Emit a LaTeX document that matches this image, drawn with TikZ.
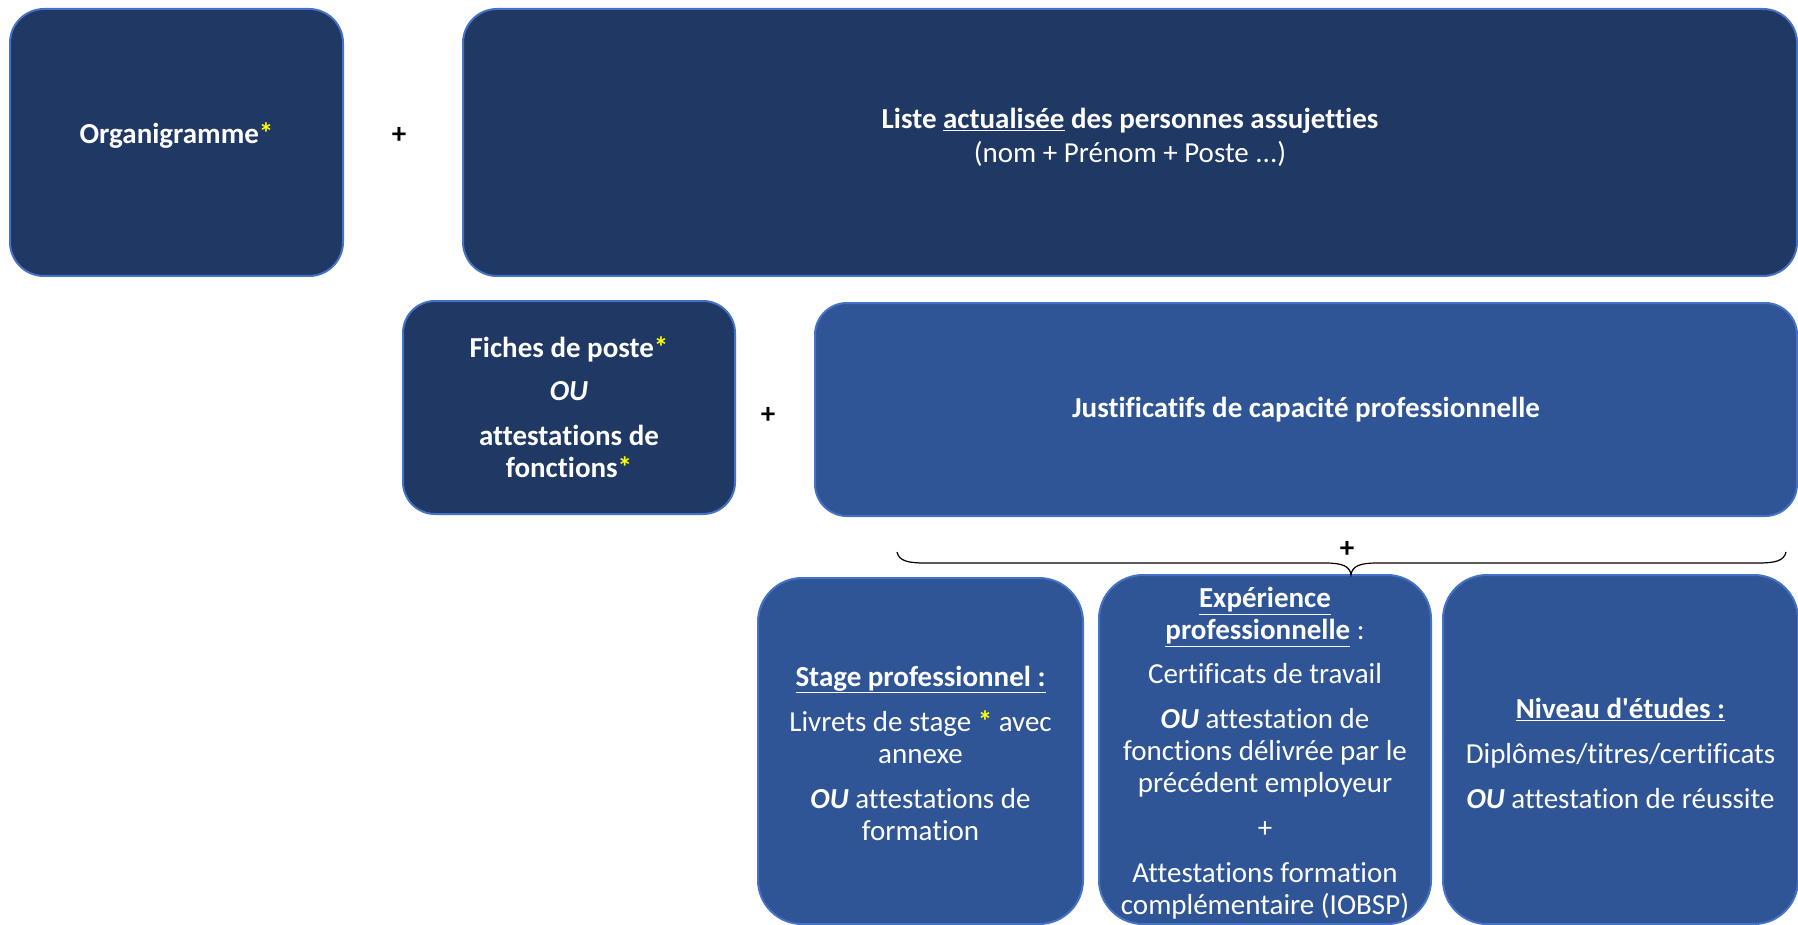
\documentclass[tikz,border=0pt]{standalone}
\usepackage{fontspec}
\setmainfont{Carlito}[Ligatures={TeX,NoCommon}]
\definecolor{navy}{HTML}{203864}
\definecolor{midblue}{HTML}{2F5597}
\definecolor{edgeblue}{HTML}{4472C4}
\definecolor{starcol}{HTML}{FFFF00}
\newcommand{\ystar}{\textcolor{starcol}{\bfseries*}}
\newcommand{\ouw}{\textbf{\textit{OU}}}
\tikzset{
  card/.style={draw=edgeblue, line width=2pt, inner sep=0pt, anchor=north west},
  darkcard/.style={card, fill=navy, rounded corners=34pt},
  midcard/.style={card, fill=midblue, rounded corners=#1},
  cardtext/.style={text=white, align=center, inner sep=0pt, font=\fontsize{29}{32}\selectfont},
  plussign/.style={font=\bfseries\fontsize{29}{32}\selectfont, text=black, inner sep=0pt}
}
\begin{document}
\begin{tikzpicture}[x=1pt,y=-1pt]
\useasboundingbox (0,0) rectangle (1798,925);

% boxes
\node[darkcard, minimum width=333pt, minimum height=267pt] (org) at (9,8) {};
\node[darkcard, minimum width=1334pt, minimum height=267pt] (liste) at (462,8) {};
\node[darkcard, rounded corners=32pt, minimum width=332pt, minimum height=213pt] (fiches) at (402,300) {};
\node[midcard=32pt, minimum width=982pt, minimum height=213pt] (justif) at (814,302) {};
\node[midcard=44pt, minimum width=325pt, minimum height=346pt] (stage) at (757,577) {};
\node[midcard=44pt, minimum width=332pt, minimum height=349pt] (exp) at (1098,574) {};
\node[midcard=44pt, minimum width=355pt, minimum height=349pt] (niv) at (1442,574) {};

% texts
\node[cardtext] (orgt) at ([yshift=7pt]org.center)
  {\textbf{Organigramme}\ystar};
\node[cardtext] (listet) at ([yshift=5pt]liste.center)
  {\textbf{Liste \underline{actualisée} des personnes assujetties}\\[2pt]
   (nom + Prénom + Poste ...)};
\node[cardtext] (fichest) at (fiches.center)
  {\textbf{Fiches de poste}\ystar\\[11pt]
   \ouw\\[13pt]
   \textbf{attestations de}\\
   \textbf{fonctions}\ystar};
\node[cardtext] (justift) at (justif.center)
  {\textbf{Justificatifs de capacité professionnelle}};
\node[cardtext] (staget) at ([yshift=-2pt]stage.center)
  {\underline{\textbf{Stage professionnel :}}\\[13pt]
   Livrets de stage \ystar{} avec\\
   annexe\\[13pt]
   \ouw{} attestations de\\
   formation};
\node[cardtext] (expt) at ([yshift=-4pt]exp.center)
  {\underline{\textbf{Expérience}}\\
   \underline{\textbf{professionnelle}} :\\[12pt]
   Certificats de travail\\[13pt]
   \ouw{} attestation de\\
   fonctions délivrée par le\\
   précédent employeur\\[13pt]
   +\\[13pt]
   Attestations formation\\
   complémentaire (IOBSP)};
\node[cardtext] (nivt) at ([yshift=-4pt]niv.center)
  {\underline{\textbf{Niveau d\textquotesingle études :}}\\[13pt]
   Diplômes/titres/certificats\\[13pt]
   \ouw{} attestation de réussite};

% plus signs
\node[plussign] (p1) at (399,135) {+};
\node[plussign] (p2) at (768,415) {+};
\node[plussign] (p3) at (1347,549) {+};

% brace
\coordinate (bl) at (897,552);
\coordinate (br) at (1786,552);
\coordinate (tip) at (1351,575);
\draw[line width=1.2pt, black] (bl) .. controls (899,561) and (908,563) .. (925,563)
  -- (1325,563) .. controls (1342,563) and (1350,566) .. (tip)
  .. controls (1352,566) and (1360,563) .. (1377,563)
  -- (1758,563) .. controls (1775,563) and (1784,561) .. (br);
\end{tikzpicture}
\end{document}
